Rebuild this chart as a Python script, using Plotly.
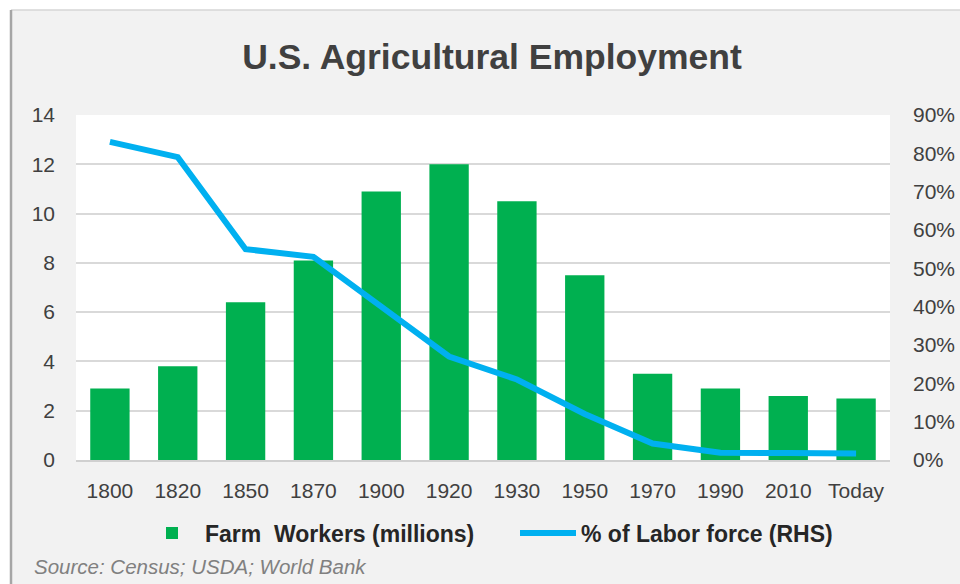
import plotly.graph_objects as go

categories = ["1800", "1820", "1850", "1870", "1900", "1920", "1930", "1950", "1970", "1990", "2010", "Today"]
farm_workers_millions = [2.9, 3.8, 6.4, 8.1, 10.9, 12.0, 10.5, 7.5, 3.5, 2.9, 2.6, 2.5]
labor_force_share = [0.83, 0.79, 0.55, 0.53, 0.40, 0.27, 0.21, 0.12, 0.043, 0.019, 0.018, 0.017]
left_ticks = [0, 2, 4, 6, 8, 10, 12, 14]
right_ticks = [0, 0.1, 0.2, 0.3, 0.4, 0.5, 0.6, 0.7, 0.8, 0.9]

W, H = 960, 584
ML, MR, MT, MB = 76, 70, 115, 124
PW, PH = W - ML - MR, H - MT - MB


def px_x(p):
    return (p - ML) / PW


def px_y(p):
    return (H - MB - p) / PH


fig = go.Figure()
fig.add_trace(go.Bar(
    x=categories, y=farm_workers_millions,
    name="Farm\u00a0 Workers (millions)",
    marker=dict(color="#00b050", line=dict(width=0)),
    yaxis="y",
))
fig.add_trace(go.Scatter(
    x=categories, y=labor_force_share,
    name="% of Labor force (RHS)",
    mode="lines",
    line=dict(color="#00b0f0", width=6),
    yaxis="y2",
))

tick_font = dict(family="Liberation Sans, Arial, sans-serif", size=21, color="#404040")

fig.update_layout(
    width=W, height=H,
    margin=dict(l=ML, r=MR, t=MT, b=MB, autoexpand=False),
    paper_bgcolor="#f2f2f2",
    plot_bgcolor="#ffffff",
    bargap=0.42,
    showlegend=True,
    title=dict(
        text="<b>U.S. Agricultural Employment</b>",
        font=dict(family="Liberation Sans, Arial, sans-serif", size=35.5, color="#404040"),
        x=px_x(492), xref="paper", xanchor="center",
        y=1 - 57 / H, yref="container", yanchor="middle",
    ),
    xaxis=dict(
        type="category",
        tickfont=tick_font,
        showgrid=False,
        showline=True, linecolor="#d0d0d0", linewidth=2,
        ticks="", ticklabelstandoff=11,
        fixedrange=True, automargin=False,
    ),
    yaxis=dict(
        range=[0, 14], tickvals=left_ticks,
        tickfont=tick_font,
        showgrid=True, gridcolor="#d9d9d9", gridwidth=1.5,
        zeroline=False, showline=False,
        ticklabelstandoff=20, automargin=False,
    ),
    yaxis2=dict(
        range=[0, 0.9], tickvals=right_ticks, tickformat=".0%",
        tickfont=tick_font,
        overlaying="y", side="right",
        showgrid=False, zeroline=False, showline=False,
        ticklabelstandoff=22, automargin=False,
    ),
    legend=dict(
        orientation="h",
        x=px_x(515), xanchor="center",
        y=px_y(533), yanchor="middle",
        font=dict(family="Liberation Sans, Arial, sans-serif", size=23, color="#262626", weight="bold"),
        bgcolor="rgba(0,0,0,0)",
        itemwidth=56,
        entrywidth=305,
        entrywidthmode="pixels",
    ),
    annotations=[dict(
        text="<i>Source: Census; USDA; World Bank</i>",
        x=px_x(32), xref="paper", xanchor="left",
        y=px_y(566), yref="paper", yanchor="middle",
        showarrow=False,
        font=dict(family="Liberation Sans, Arial, sans-serif", size=20.5, color="#808080"),
    )],
    shapes=[
        # white page strips outside the chart frame
        dict(type="rect", xref="paper", yref="paper", x0=px_x(-5), x1=px_x(W + 5), y0=px_y(10), y1=px_y(-5),
             fillcolor="#ffffff", line=dict(width=0), layer="below"),
        dict(type="rect", xref="paper", yref="paper", x0=px_x(-5), x1=px_x(11), y0=px_y(H + 5), y1=px_y(-5),
             fillcolor="#ffffff", line=dict(width=0), layer="below"),
        # frame border
        dict(type="line", xref="paper", yref="paper", x0=px_x(11), x1=px_x(W + 5), y0=px_y(10), y1=px_y(10),
             line=dict(color="#d6d6d6", width=1.5), layer="below"),
        dict(type="line", xref="paper", yref="paper", x0=px_x(11), x1=px_x(11), y0=px_y(10), y1=px_y(H + 5),
             line=dict(color="#a6a6a6", width=2.5), layer="below"),
    ],
)

fig.write_html(
    "out.html",
    config={"displayModeBar": False},
    post_script="document.body.style.margin='0';document.body.style.overflow='hidden';",
)
